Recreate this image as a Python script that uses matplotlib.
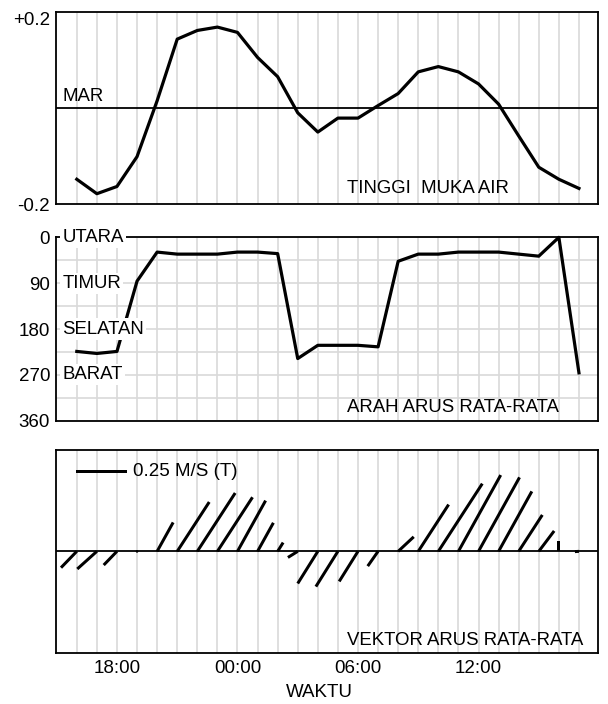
import numpy as np
import matplotlib
matplotlib.use("Agg")
import matplotlib.pyplot as plt

plt.rcParams["font.family"] = ["Liberation Sans", "DejaVu Sans"]

# Jam pengamatan (tiap jam, mulai 16:00)
jam = [16, 17, 18, 19, 20, 21, 22, 23, 0, 1, 2, 3, 4, 5, 6, 7, 8, 9, 10, 11, 12, 13, 14, 15, 16, 17]

# Tinggi muka air terhadap MAR (m)
tinggi_muka_air = [-0.148, -0.178, -0.163, -0.101, 0.015, 0.143, 0.161, 0.168, 0.157, 0.105,
                   0.065, -0.010, -0.050, -0.021, -0.021, 0.005, 0.030, 0.075, 0.086, 0.075,
                   0.050, 0.008, -0.058, -0.123, -0.148, -0.167]

# Arah arus rata-rata (derajat dari utara)
arah_arus = [224, 228, 224, 86, 29, 33, 33, 33, 29, 29, 32, 238, 212, 212, 212, 215,
             47, 33, 33, 29, 29, 29, 33, 37, 0, 266]

# Kecepatan arus rata-rata (m/s)
kecepatan_arus = [0.112, 0.130, 0.094, 0.010, 0.163, 0.290, 0.343, 0.318, 0.286, 0.161,
                  0.051, 0.057, 0.187, 0.205, 0.175, 0.089, 0.105, 0.275, 0.398, 0.430,
                  0.417, 0.338, 0.214, 0.126, 0.051, 0.020]

jam_label = [18, 0, 6, 12]
arah_tick = [0, 90, 180, 270, 360]
arah_nama = ["UTARA", "TIMUR", "SELATAN", "BARAT"]
skala_key = 0.25

x = np.arange(len(jam))
grid_kw = dict(color="#d9d9d9", lw=1.2)
FS = 13.4  # ukuran huruf label di dalam panel

fig = plt.figure(figsize=(6.08, 7.04), dpi=100)
ax1 = fig.add_axes([0.0916, 0.7098, 0.892, 0.2736])
ax2 = fig.add_axes([0.0916, 0.4024, 0.892, 0.2605], sharex=ax1)
ax3 = fig.add_axes([0.0916, 0.0729, 0.892, 0.2879], sharex=ax1)

for ax in (ax1, ax2, ax3):
    ax.set_axisbelow(True)
    ax.set_xticks(x)
    ax.grid(axis="x", **grid_kw)
    ax.tick_params(length=0, labelsize=13.5, pad=4)
    for s in ax.spines.values():
        s.set_linewidth(1.3)
ax1.set_xlim(-1.05, 25.95)
ax1.tick_params(labelbottom=False)
ax2.tick_params(labelbottom=False)

# --- tinggi muka air ---
ax1.plot(x, tinggi_muka_air, color="black", lw=2.3)
ax1.axhline(0, color="black", lw=1.3)
ax1.set_ylim(-0.2, 0.2)
ax1.set_yticks([-0.2, 0.2], ["-0.2", "+0.2"])
ax1.get_yticklabels()[1].set_va("top")
ax1.text(0.012, 0.536, "MAR", transform=ax1.transAxes, fontsize=FS, va="baseline")
ax1.text(0.538, 0.057, "TINGGI  MUKA AIR", transform=ax1.transAxes, fontsize=FS, va="baseline")

# --- arah arus ---
ax2.plot(x, arah_arus, color="black", lw=2.3, clip_on=False, zorder=2)
ax2.set_ylim(360, 0)
ax2.set_yticks(arah_tick)
ax2.set_yticks(np.arange(45, 360, 90), minor=True)
ax2.tick_params(which="minor", length=0)
ax2.grid(axis="y", which="both", **grid_kw)
for d, nama in zip(arah_tick, arah_nama):
    ax2.text(0.012, d, nama, transform=ax2.get_yaxis_transform(), fontsize=FS,
             va="center", zorder=4, bbox=dict(facecolor="white", edgecolor="none", pad=1.5))
ax2.text(0.538, 0.046, "ARAH ARUS RATA-RATA", transform=ax2.transAxes, fontsize=FS,
         va="baseline")

# --- vektor arus ---
rad = np.deg2rad(arah_arus)
u = np.array(kecepatan_arus) * np.sin(rad)
v = np.array(kecepatan_arus) * np.cos(rad)
q = ax3.quiver(x, np.zeros(len(x)), u, v, angles="uv", scale_units="dots",
               scale=skala_key / 50.7, units="dots", width=3, headwidth=0, headlength=0,
               headaxislength=0, color="black", zorder=3)
ax3.quiverkey(q, 0.131, 0.896, skala_key, "0.25 M/S (T)", labelpos="E", labelsep=0.06,
              coordinates="axes", fontproperties=dict(family="Liberation Sans", size=13.5))
ax3.axhline(0, color="black", lw=1.3)
ax3.set_ylim(-1, 1)
ax3.set_yticks([])
ax3.set_xticks(x, [f"{j:02d}:00" if (j in jam_label and i < 22) else "" for i, j in enumerate(jam)])
ax3.tick_params(axis="x", pad=5)
ax3.text(0.538, 0.038, "VEKTOR ARUS RATA-RATA", transform=ax3.transAxes, fontsize=FS,
         va="baseline")
ax3.set_xlabel("WAKTU", fontsize=13.5, va="baseline")
ax3.xaxis.set_label_coords(0.487, -0.217)

fig.savefig("out.png", dpi=100)
